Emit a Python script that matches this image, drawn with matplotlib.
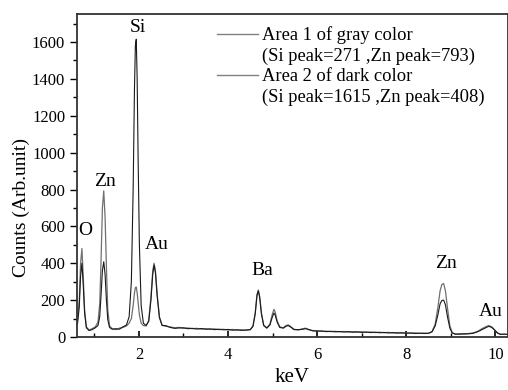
import matplotlib
matplotlib.use('Agg')
import matplotlib.pyplot as plt
from matplotlib.lines import Line2D
from matplotlib.ticker import MultipleLocator

plt.rcParams['font.family'] = 'Liberation Serif'

# energia (keV)
energia = [0.62, 0.66, 0.69, 0.72, 0.75, 0.78, 0.82, 0.88, 0.95, 1.02,
           1.08, 1.12, 1.15, 1.18, 1.21, 1.24, 1.27, 1.30, 1.34, 1.40,
           1.48, 1.56, 1.64, 1.72, 1.78, 1.83, 1.87, 1.90, 1.92, 1.94,
           1.96, 1.98, 2.01, 2.05, 2.10, 2.16, 2.22, 2.27, 2.31, 2.34,
           2.37, 2.41, 2.46, 2.52, 2.60, 2.70, 2.80, 2.90, 3.0, 3.1,
           3.2, 3.3, 3.4, 3.5, 3.6, 3.7, 3.8, 3.9, 4.0, 4.1,
           4.2, 4.3, 4.4, 4.5, 4.56, 4.61, 4.65, 4.68, 4.71, 4.75,
           4.80, 4.87, 4.94, 4.99, 5.03, 5.06, 5.10, 5.16, 5.24, 5.30,
           5.35, 5.40, 5.48, 5.58, 5.68, 5.74, 5.80, 5.9, 6.0, 6.1,
           6.2, 6.3, 6.4, 6.5, 6.6, 6.7, 6.8, 6.9, 7.0, 7.1,
           7.2, 7.3, 7.4, 7.5, 7.6, 7.7, 7.8, 7.9, 8.0, 8.1,
           8.2, 8.3, 8.4, 8.5, 8.58, 8.65, 8.71, 8.76, 8.80, 8.84,
           8.88, 8.93, 8.98, 9.03, 9.1, 9.2, 9.3, 9.4, 9.5, 9.6,
           9.7, 9.78, 9.85, 9.92, 9.98, 10.05, 10.12, 10.2, 10.3]

# Area 1 (gris): Si=271, Zn=793
area1 = [90, 200, 400, 480, 330, 150, 55, 38, 45, 55,
         80, 180, 420, 700, 793, 650, 380, 150, 60, 45,
         40, 48, 52, 60, 75, 100, 170, 240, 268, 271,
         240, 190, 120, 75, 62, 60, 90, 220, 360, 400,
         360, 230, 110, 65, 58, 55, 50, 52, 47, 49,
         45, 47, 43, 45, 41, 44, 40, 42, 38, 41,
         37, 39, 36, 40, 60, 130, 230, 255, 220, 130,
         65, 50, 70, 120, 150, 135, 90, 55, 50, 62,
         66, 58, 42, 38, 45, 48, 40, 35, 34, 30,
         32, 29, 31, 28, 30, 27, 29, 26, 28, 25,
         27, 24, 26, 23, 25, 22, 24, 21, 23, 20,
         22, 19, 21, 20, 30, 70, 160, 250, 285, 290,
         250, 150, 60, 25, 15, 18, 15, 19, 22, 30,
         45, 55, 62, 55, 40, 20, 15, 14, 15]

# Area 2 (oscura): Si=1615, Zn=408
area2 = [70, 160, 330, 400, 280, 130, 50, 35, 40, 50,
         62, 110, 230, 360, 408, 340, 200, 95, 52, 42,
         45, 42, 55, 65, 110, 300, 800, 1350, 1580, 1615,
         1400, 1000, 500, 170, 75, 62, 85, 200, 340, 390,
         350, 220, 105, 62, 62, 52, 47, 49, 50, 45,
         47, 43, 46, 42, 44, 40, 42, 39, 41, 37,
         39, 36, 38, 40, 58, 125, 225, 250, 215, 125,
         62, 48, 65, 105, 130, 118, 82, 52, 48, 58,
         62, 55, 40, 40, 42, 45, 42, 33, 32, 33,
         29, 31, 28, 30, 27, 29, 26, 28, 25, 27,
         24, 26, 23, 25, 22, 24, 21, 23, 20, 22,
         19, 21, 19, 20, 28, 60, 120, 180, 198, 200,
         175, 105, 48, 22, 16, 15, 18, 17, 20, 28,
         40, 50, 58, 52, 38, 22, 14, 16, 13]

etiquetas = ['O', 'Zn', 'Si', 'Au', 'Ba', 'Zn', 'Au']
etiq_x = [0.79, 1.24, 1.98, 2.41, 4.77, 8.90, 9.89]
etiq_y = [575, 846, 1681, 504, 358, 396, 141]

fig = plt.figure(figsize=(5.08, 3.9), dpi=100)
ax = fig.add_axes([0.1516, 0.1359, 0.848, 0.8282])

ax.plot(energia, area1, color='#707070', linewidth=0.9)
ax.plot(energia, area2, color='#1a1a1a', linewidth=0.8)

for t, x, y in zip(etiquetas, etiq_x, etiq_y):
    ax.text(x, y, t, fontsize=14, ha='center', va='center')

ax.set_xlim(0.61, 10.28)
ax.set_ylim(0, 1752)
ax.xaxis.set_major_locator(MultipleLocator(2))
ax.xaxis.set_minor_locator(MultipleLocator(1))
ax.yaxis.set_major_locator(MultipleLocator(200))
ax.yaxis.set_minor_locator(MultipleLocator(100))
ax.tick_params(axis='x', which='major', direction='in', length=4, width=1.2, labelsize=12, pad=7)
ax.tick_params(axis='x', which='minor', direction='in', length=3, width=1)
ax.tick_params(axis='y', which='major', direction='out', length=5, width=1, labelsize=12)
ax.tick_params(axis='y', which='minor', direction='out', length=3, width=1)
for s in ax.spines.values():
    s.set_linewidth(1.3)
    s.set_color('#333333')

ax.set_xlabel('keV', fontsize=15, labelpad=4)
ax.set_ylabel('Counts (Arb.unit)', fontsize=14)
ax.yaxis.set_label_coords(-0.11, 0.40)

# leyenda en 4 renglones
h1 = Line2D([], [], color='#808080', linewidth=1)
h2 = Line2D([], [], color='#808080', linewidth=1)
vacio = Line2D([], [], linestyle='none')
ax.legend([h1, vacio, h2, vacio],
          ['Area 1 of gray color', '(Si peak=271 ,Zn peak=793)',
           'Area 2 of dark color', '(Si peak=1615 ,Zn peak=408)'],
          loc='upper left', bbox_to_anchor=(0.325, 0.962), frameon=False,
          fontsize=13.3, handlelength=2.2, handletextpad=0.25,
          borderpad=0, borderaxespad=0, labelspacing=0.18)

plt.savefig('out.png', dpi=100)
